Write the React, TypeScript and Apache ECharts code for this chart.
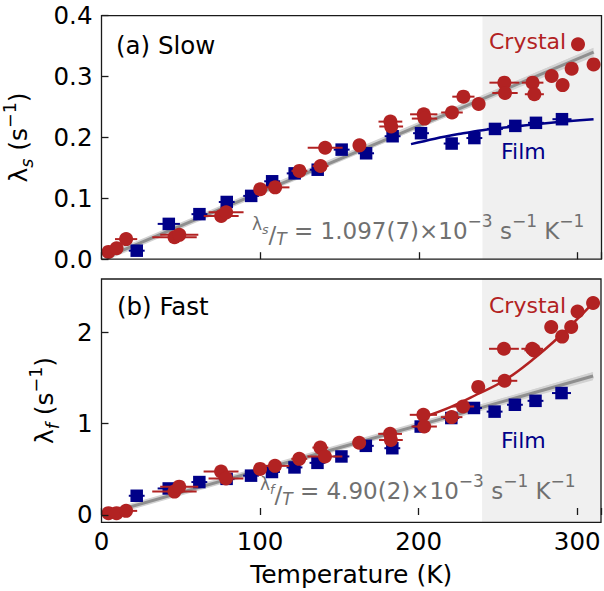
import React, { useEffect, useRef } from "react";
import * as echarts from "echarts";

// ---------- data ----------
const crystalT = [4.4, 9.5, 15.5, 46, 49, 75.4, 78.5, 100, 109.4, 124.7, 138, 140.9, 162.5, 182, 182.5, 203, 203.5, 220.8, 228, 237.6, 253.8, 254.2, 271.6, 272.7, 283.6, 290.5, 296.2, 300.2, 310];
const crystalTErr = [2, 3, 7, 14, 12, 11, 11, 4, 9, 5, 5, 11, 4, 7.5, 7.5, 8.6, 8, 6.8, 7, 4, 9.4, 8, 6.8, 6, 3, 4, 3, 2, 2];
const crystalSlow = [0.012, 0.018, 0.033, 0.036, 0.040, 0.071, 0.077, 0.115, 0.118, 0.145, 0.153, 0.183, 0.187, 0.226, 0.218, 0.238, 0.231, 0.241, 0.267, 0.255, 0.290, 0.273, 0.290, 0.271, 0.301, 0.286, 0.313, 0.353, 0.320];
const crystalFast = [0.02, 0.02, 0.045, 0.256, 0.31, 0.475, 0.40, 0.504, 0.537, 0.614, 0.737, 0.64, 0.79, 0.887, 0.82, 1.095, 0.967, 1.07, 1.186, 1.40, 1.817, 1.467, 1.817, 1.80, 2.055, 1.95, 2.055, 2.225, 2.317];

const filmT = [22.2, 42.4, 61.7, 78.9, 94.3, 107.5, 121.7, 136.2, 151.3, 166.7, 183.4, 201.3, 220.6, 234.9, 247.9, 260.7, 273.7, 290.1];
const filmTErr = [5, 7, 5, 5, 5, 5, 5, 5, 5, 5, 5, 5, 5, 5, 5, 5, 5, 6];
const filmSlow = [0.014, 0.058, 0.074, 0.094, 0.104, 0.128, 0.141, 0.147, 0.180, 0.174, 0.202, 0.207, 0.190, 0.199, 0.214, 0.219, 0.224, 0.230];
const filmFast = [0.21, 0.29, 0.36, 0.395, 0.43, 0.47, 0.52, 0.57, 0.64, 0.756, 0.73, 0.967, 1.06, 1.17, 1.13, 1.205, 1.248, 1.333];

const filmSlowFitT = [195, 210, 225, 240, 260, 280, 310];
const filmSlowFitY = [0.189, 0.198, 0.2055, 0.212, 0.218, 0.2235, 0.230];
const crystalFastFitT = [203, 220, 237, 254, 272, 290, 300, 310];
const crystalFastFitY = [1.07, 1.18, 1.32, 1.47, 1.70, 1.97, 2.14, 2.32];

const slowSlope = 1.097e-3;
const fastSlope = 4.9e-3;
const lineT = [5, 310];
const shadeStart = 240;
const xTicks = [0, 100, 200, 300];
const fastTicks = [0, 1, 2];

// ---------- styles ----------
const RED = "#b22222";
const BLUE = "#000088";
const GREY_TXT = "#707070";
const FONT = "DejaVu Sans";
const FRAME = "#1a1a1a";

function shadeSeries(i: number) {
  return {
    type: "custom", xAxisIndex: i, yAxisIndex: i, z: 0, silent: true,
    data: [[shadeStart, 0]], encode: { x: 0, y: 1 },
    renderItem: (p: any, api: any) => {
      const cs = p.coordSys;
      const x0 = api.coord([api.value(0), api.value(1)])[0];
      return { type: "rect", shape: { x: x0, y: cs.y, width: cs.x + cs.width - x0, height: cs.height }, style: { fill: "#f0f0f0" } };
    },
  };
}

function bandSeries(i: number, slope: number, d: number) {
  return {
    type: "custom", xAxisIndex: i, yAxisIndex: i, z: 1, silent: true,
    data: [[lineT[0], 0]], encode: { x: 0, y: 1 },
    renderItem: (_p: any, api: any) => {
      const up = lineT.map((t) => api.coord([t, slope * t * (1 + d)]));
      const lo = lineT.slice().reverse().map((t) => api.coord([t, slope * t * (1 - d)]));
      return { type: "polygon", shape: { points: up.concat(lo) }, style: { fill: "#d2d2d2" } };
    },
  };
}

function greyLine(i: number, slope: number, width: number, color: string, z: number) {
  return {
    type: "line", xAxisIndex: i, yAxisIndex: i, z, silent: true, symbol: "none",
    data: lineT.map((t) => [t, slope * t]),
    lineStyle: { color, width, cap: "butt" },
  };
}

function fitLine(i: number, T: number[], Y: number[], color: string) {
  return {
    type: "line", xAxisIndex: i, yAxisIndex: i, z: 3, silent: true, symbol: "none", smooth: 0.4,
    data: T.map((t, k) => [t, Y[k]]),
    lineStyle: { color, width: 2.5 },
  };
}

function errSeries(i: number, T: number[], E: number[], Y: number[], color: string, z: number) {
  return {
    type: "custom", xAxisIndex: i, yAxisIndex: i, z, silent: true,
    data: T.map((t, k) => [t, Y[k], E[k]]), encode: { x: 0, y: 1 },
    renderItem: (_p: any, api: any) => {
      const t = api.value(0), y = api.value(1), e = api.value(2);
      const a = api.coord([t - e, y]);
      const b = api.coord([t + e, y]);
      return { type: "line", shape: { x1: a[0], y1: a[1], x2: b[0], y2: b[1] }, style: { stroke: color, lineWidth: 2 } };
    },
  };
}

function scatter(i: number, T: number[], Y: number[], color: string, symbol: string, size: number, z: number) {
  return {
    type: "scatter", xAxisIndex: i, yAxisIndex: i, z, symbol, symbolSize: size,
    data: T.map((t, k) => [t, Y[k]]),
    itemStyle: { color, opacity: 1 },
  };
}

function rs(fontSize: number, raise: number, italic = false) {
  return {
    fontFamily: FONT, fontSize, lineHeight: fontSize, padding: [0, 0, raise, 0],
    verticalAlign: "bottom", fontStyle: italic ? "italic" : "normal",
  };
}

// annotation (nicefrac + superscripts); all offsets relative to the line bottom
const frac = {
  l: rs(17, 14),
  ls: rs(12.5, 11, true),
  sl: rs(23, 0),
  t: rs(17, -0.5, true),
  m: rs(23, 4),
  p: rs(17, 17),
};

const ylab = {
  l: rs(25, 5),
  s: rs(17.5, 0, true),
  m: rs(25, 5),
  p: rs(17.5, 17),
};

function txt(x: number, y: number, text: string, color: string, size = 22) {
  return {
    type: "text", x, y, z: 30, silent: true,
    style: { text, fill: color, fontFamily: FONT, fontSize: size, align: "left", verticalAlign: "middle" },
  };
}

function buildOption() {
  const tickStyle = { inside: true, length: 7, lineStyle: { color: FRAME, width: 1.3 } };
  const labelStyle = { fontFamily: FONT, fontSize: 24.5, color: "#000" };
  return {
    animation: false,
    backgroundColor: "#fff",
    textStyle: { fontFamily: FONT },
    grid: [
      { left: 101.5, top: 15.7, width: 500, height: 243.5, show: true, borderColor: FRAME, borderWidth: 1.3, backgroundColor: "transparent", z: 20 },
      { left: 101.5, top: 279, width: 500, height: 243.3, show: true, borderColor: FRAME, borderWidth: 1.3, backgroundColor: "transparent", z: 20 },
    ],
    xAxis: [
      { gridIndex: 0, type: "value", min: 0, max: 315, interval: 100, z: 20,
        axisLine: { show: false }, axisTick: tickStyle, axisLabel: { show: false }, splitLine: { show: false } },
      { gridIndex: 1, type: "value", min: 0, max: 315, interval: 100, z: 20,
        axisLine: { show: false }, axisTick: tickStyle,
        axisLabel: { ...labelStyle, margin: 7, formatter: (v: number) => (xTicks.includes(v) ? String(v) : "") },
        splitLine: { show: false },
        name: "Temperature (K)", nameLocation: "middle", nameGap: 40,
        nameTextStyle: { fontFamily: FONT, fontSize: 25, color: "#000" } },
    ],
    yAxis: [
      { gridIndex: 0, type: "value", min: 0, max: 0.4, interval: 0.1, z: 20,
        axisLine: { show: false }, axisTick: tickStyle,
        axisLabel: { ...labelStyle, margin: 9, formatter: (v: number) => v.toFixed(1) },
        splitLine: { show: false } },
      { gridIndex: 1, type: "value", min: -0.08, max: 2.58, z: 20,
        axisLine: { show: false },
        axisTick: { ...tickStyle, customValues: fastTicks },
        axisLabel: { ...labelStyle, margin: 9, customValues: fastTicks, formatter: (v: number) => String(v) },
        splitLine: { show: false } },
    ],
    series: [
      shadeSeries(0),
      bandSeries(0, slowSlope, 0.022),
      greyLine(0, slowSlope * 1.004, 6, "#d2d2d2", 1),
      greyLine(0, slowSlope, 3, "#8f8f8f", 2),
      fitLine(0, filmSlowFitT, filmSlowFitY, BLUE),
      errSeries(0, filmT, filmTErr, filmSlow, BLUE, 4),
      scatter(0, filmT, filmSlow, BLUE, "rect", 12.5, 5),
      errSeries(0, crystalT, crystalTErr, crystalSlow, RED, 6),
      scatter(0, crystalT, crystalSlow, RED, "circle", 14, 7),

      shadeSeries(1),
      bandSeries(1, fastSlope, 0.03),
      greyLine(1, fastSlope * 1.004, 6, "#d2d2d2", 1),
      greyLine(1, fastSlope, 3, "#8f8f8f", 2),
      fitLine(1, crystalFastFitT, crystalFastFitY, RED),
      errSeries(1, filmT, filmTErr, filmFast, BLUE, 4),
      scatter(1, filmT, filmFast, BLUE, "rect", 12.5, 5),
      errSeries(1, crystalT, crystalTErr, crystalFast, RED, 6),
      scatter(1, crystalT, crystalFast, RED, "circle", 14, 7),
    ],
    graphic: [
      txt(116, 45, "(a) Slow", "#000", 24.5),
      txt(117, 306.5, "(b) Fast", "#000", 24.5),
      txt(489, 41, "Crystal", RED),
      txt(501, 151, "Film", BLUE),
      txt(489, 305, "Crystal", RED),
      txt(501, 440, "Film", BLUE),
      {
        type: "text", x: 252, y: 246.5, z: 30, silent: true,
        style: {
          text: "{l|λ}{ls|s}{sl|/}{t|T}{m| = 1.097(7)×10}{p|−3}{m| s}{p|−1}{m| K}{p|−1}",
          fill: GREY_TXT, fontFamily: FONT, fontSize: 23, align: "left", verticalAlign: "bottom", rich: frac,
        },
      },
      {
        type: "text", x: 260, y: 506.5, z: 30, silent: true,
        style: {
          text: "{l|λ}{ls|f}{sl|/}{t|T}{m| = 4.90(2)×10}{p|−3}{m| s}{p|−1}{m| K}{p|−1}",
          fill: GREY_TXT, fontFamily: FONT, fontSize: 23, align: "left", verticalAlign: "bottom", rich: frac,
        },
      },
      {
        type: "text", x: 23, y: 137.5, rotation: Math.PI / 2, z: 30, silent: true,
        style: {
          text: "{l|λ}{s|s}{m| (s}{p|−1}{m|)}",
          fill: "#000", fontFamily: FONT, fontSize: 25, align: "center", verticalAlign: "middle", rich: ylab,
        },
      },
      {
        type: "text", x: 49, y: 400.5, rotation: Math.PI / 2, z: 30, silent: true,
        style: {
          text: "{l|λ}{s|f}{m| (s}{p|−1}{m|)}",
          fill: "#000", fontFamily: FONT, fontSize: 25, align: "center", verticalAlign: "middle", rich: ylab,
        },
      },
    ],
  };
}

export default function App() {
  const ref = useRef<HTMLDivElement>(null);
  useEffect(() => {
    const chart = echarts.init(ref.current!, null, { renderer: "svg" });
    chart.setOption(buildOption() as any);
    return () => chart.dispose();
  }, []);
  return <div ref={ref} style={{ position: "absolute", left: 0, top: 0, width: 604, height: 591 }} />;
}
